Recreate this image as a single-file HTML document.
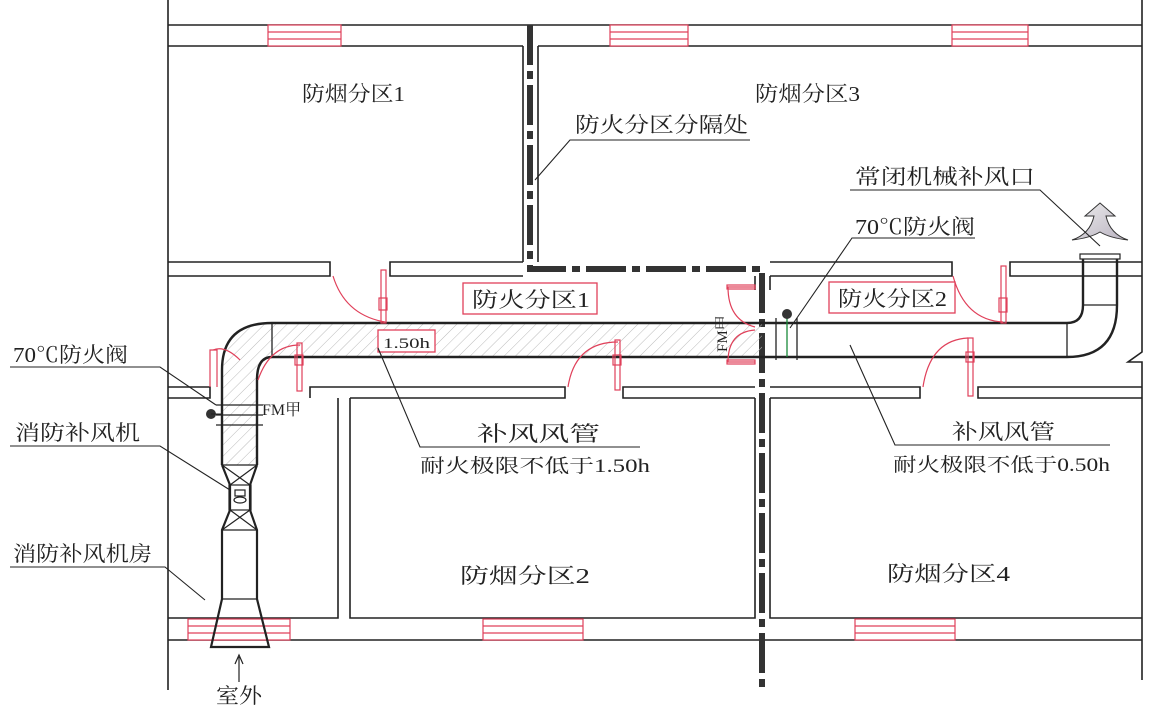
<!DOCTYPE html>
<html><head><meta charset="utf-8"><style>
html,body{margin:0;padding:0;background:#fff;}
svg{display:block;}
text{font-family:"Liberation Serif","Noto Serif CJK SC","Noto Sans CJK SC",serif;fill:#222;}
</style></head><body>
<svg width="1167" height="706" viewBox="0 0 1167 706" xmlns="http://www.w3.org/2000/svg">
<defs>
<pattern id="h" width="8" height="8" patternUnits="userSpaceOnUse" patternTransform="rotate(45)">
<line x1="0" y1="0" x2="0" y2="8" stroke="#bbb" stroke-width="1"/>
</pattern>
<linearGradient id="ag" x1="0" y1="0" x2="1" y2="1"><stop offset="0" stop-color="#eee"/><stop offset="1" stop-color="#b9b2c0"/></linearGradient>
</defs>
<g stroke="#222" stroke-width="1.6" fill="none">
<line x1="168" y1="0" x2="168" y2="690"/>
<polyline points="1142,0 1142,352 1128,362 1142,362 1142,680"/>
<line x1="168" y1="25" x2="1142" y2="25"/>
<line x1="168" y1="46" x2="523" y2="46"/>
<line x1="538" y1="46" x2="1142" y2="46"/>
<line x1="523" y1="46" x2="523" y2="262"/>
<line x1="538" y1="46" x2="538" y2="262"/>
<polyline points="168,262 330,262 330,276 168,276"/>
<polyline points="523,262 390,262 390,276 523,276"/>
<polyline points="770,262 952,262 952,276 770,276"/>
<polyline points="1142,262 1010,262 1010,276 1142,276"/>
<polyline points="168,387 210,387 210,398 168,398"/>
<polyline points="310,398 310,387 565,387 565,398 350,398"/>
<polyline points="755,387 623,387 623,398 755,398"/>
<polyline points="770,387 920,387 920,398 770,398"/>
<polyline points="1142,387 978,387 978,398 1142,398"/>
<polyline points="338,398 338,618 168,618"/>
<polyline points="350,398 350,618 755,618 755,398"/>
<polyline points="770,398 770,618 1142,618"/>
<line x1="168" y1="640" x2="1142" y2="640"/>
<line x1="755" y1="276" x2="755" y2="290"/>
<line x1="770" y1="276" x2="770" y2="290"/>
</g>
<g stroke="#333" stroke-width="6" fill="none" stroke-dasharray="40 6 8 6">
<polyline points="530,25 530,269 762,269 762,690"/>
</g>
<g stroke="#e0405a" stroke-width="1.2" fill="#fff">
<rect x="268" y="25" width="73" height="21"/><line x1="268" y1="32" x2="341" y2="32"/><line x1="268" y1="39" x2="341" y2="39"/>
<rect x="610" y="25" width="78" height="21"/><line x1="610" y1="32" x2="688" y2="32"/><line x1="610" y1="39" x2="688" y2="39"/>
<rect x="952" y="25" width="76" height="21"/><line x1="952" y1="32" x2="1028" y2="32"/><line x1="952" y1="39" x2="1028" y2="39"/>
<rect x="188" y="619" width="102" height="21"/><line x1="188" y1="626" x2="290" y2="626"/><line x1="188" y1="633" x2="290" y2="633"/>
<rect x="483" y="619" width="100" height="21"/><line x1="483" y1="626" x2="583" y2="626"/><line x1="483" y1="633" x2="583" y2="633"/>
<rect x="855" y="619" width="100" height="21"/><line x1="855" y1="626" x2="955" y2="626"/><line x1="855" y1="633" x2="955" y2="633"/>
</g>
<path d="M272,323 L762,323 L762,357 L272,357 Z" fill="url(#h)"/>
<path d="M222,370 Q222,323 272,323 L272,357 Q257,357 257,380 L257,465 L222,465 Z" fill="url(#h)"/>
<g stroke="#222" stroke-width="2.4" fill="none">
<path d="M222,465 L222,370 Q222,323 272,323 L1067,323 Q1083,323 1083,305 L1083,258"/>
<path d="M257,465 L257,380 Q257,357 272,357 L1067,357 Q1117,357 1117,305 L1117,258"/>
</g>
<g stroke="#222" stroke-width="1.3" fill="none">
<line x1="272" y1="323" x2="272" y2="357"/>
<line x1="1067" y1="323" x2="1067" y2="357"/>
<line x1="1083" y1="305" x2="1117" y2="305"/>
<line x1="776" y1="318" x2="776" y2="360"/>
<line x1="797" y1="318" x2="797" y2="360"/>
<line x1="216" y1="405" x2="263" y2="405"/>
<line x1="216" y1="415" x2="263" y2="415"/>
<line x1="216" y1="425" x2="263" y2="425"/>
</g>
<line x1="787" y1="315" x2="787" y2="357" stroke="#1a8a3a" stroke-width="1.3"/>
<circle cx="787" cy="314" r="5" fill="#333"/>
<circle cx="211" cy="414" r="5" fill="#333"/><line x1="211" y1="414" x2="222" y2="414" stroke="#222"/>
<g stroke="#222" stroke-width="2.2" fill="none">
<path d="M222,465 L230,485 L230,510 L222,530 L222,599 L211,647 L269,647 L257,599 L257,530 L250,510 L250,485 L257,465"/>
</g>
<g stroke="#222" stroke-width="1.2" fill="none">
<line x1="222" y1="465" x2="257" y2="465"/><line x1="222" y1="530" x2="257" y2="530"/><line x1="222" y1="599" x2="257" y2="599"/>
<line x1="222" y1="465" x2="250" y2="485"/><line x1="257" y1="465" x2="230" y2="485"/>
<line x1="230" y1="510" x2="257" y2="530"/><line x1="250" y1="510" x2="222" y2="530"/>
<rect x="229" y="485" width="22" height="25"/>
<rect x="235" y="490" width="10" height="6"/>
<ellipse cx="240" cy="500" rx="6" ry="3"/>
<line x1="239" y1="657" x2="239" y2="682"/><polyline points="235,664 239,655 243,664"/>
</g>
<rect x="1080" y="254" width="40" height="5" fill="#fff" stroke="#222" stroke-width="1.2"/>
<path d="M1100,203 L1115,216 L1106,216 Q1110,234 1128,240 Q1110,238 1100,232 Q1090,238 1072,240 Q1090,234 1094,216 L1085,216 Z" fill="url(#ag)" stroke="#333" stroke-width="1"/>
<g stroke="#e0405a" stroke-width="1.2" fill="none">
<path d="M333,276 Q345,315 385,322"/><rect x="381" y="270" width="5" height="53"/><rect x="379" y="298" width="8" height="12"/>
<path d="M210,387 L210,350 L217,350 L217,387"/><path d="M213,350 Q225,345 240,360"/>
<path d="M258,380 Q270,345 300,345"/><rect x="297" y="343" width="5" height="48"/><rect x="295" y="355" width="8" height="10"/>
<path d="M568,387 Q575,342 618,342"/><rect x="615" y="340" width="5" height="50"/><rect x="613" y="355" width="8" height="10"/>
<path d="M953,276 Q965,320 1003,322"/><rect x="1001" y="266" width="5" height="57"/><rect x="999" y="298" width="8" height="14"/>
<path d="M923,387 Q930,340 968,338"/><rect x="968" y="338" width="5" height="58"/><rect x="966" y="352" width="8" height="10"/>
<path d="M755,287 L728,287 Q728,320 755,327"/><rect x="727" y="285" width="28" height="4"/>
<path d="M755,362 L728,362 Q728,332 755,330"/><rect x="727" y="360" width="28" height="4"/>
</g>
<g stroke="#e0405a" stroke-width="1.3" fill="#fff">
<rect x="463" y="283" width="134" height="31"/>
<rect x="829" y="282" width="126" height="31"/>
<rect x="378" y="330" width="57" height="22"/>
</g>
<g stroke="#222" stroke-width="1.1" fill="none">
<polyline points="750,140 570,140 535,180"/>
<polyline points="850,190 1040,190 1100,246"/>
<polyline points="975,238 852,238 790,328"/>
<polyline points="10,367 160,367 216,405"/>
<polyline points="10,446 160,446 230,490"/>
<polyline points="10,567 165,567 205,600"/>
<polyline points="640,447 420,447 378,348"/>
<polyline points="1110,445 895,445 850,345"/>
</g>
<g font-size="21">
<text x="302" y="101" textLength="103" lengthAdjust="spacingAndGlyphs">防烟分区1</text>
<text x="755" y="101" textLength="105" lengthAdjust="spacingAndGlyphs">防烟分区3</text>
<text x="575" y="132" textLength="173" lengthAdjust="spacingAndGlyphs">防火分区分隔处</text>
<text x="855" y="184" textLength="180" lengthAdjust="spacingAndGlyphs">常闭机械补风口</text>
<text x="855" y="234" textLength="120" lengthAdjust="spacingAndGlyphs">70℃防火阀</text>
<text x="472" y="307" textLength="118" lengthAdjust="spacingAndGlyphs">防火分区1</text>
<text x="838" y="306" textLength="109" lengthAdjust="spacingAndGlyphs">防火分区2</text>
<text x="13" y="362" textLength="115" lengthAdjust="spacingAndGlyphs">70℃防火阀</text>
<text x="15" y="440" textLength="125" lengthAdjust="spacingAndGlyphs">消防补风机</text>
<text x="13" y="561" textLength="139" lengthAdjust="spacingAndGlyphs">消防补风机房</text>
<text x="477" y="441" textLength="123" lengthAdjust="spacingAndGlyphs">补风风管</text>
<text x="952" y="439" textLength="103" lengthAdjust="spacingAndGlyphs">补风风管</text>
<text x="460" y="583" textLength="130" lengthAdjust="spacingAndGlyphs">防烟分区2</text>
<text x="887" y="581" textLength="123" lengthAdjust="spacingAndGlyphs">防烟分区4</text>
<text x="216" y="703" textLength="46" lengthAdjust="spacingAndGlyphs">室外</text>
</g>
<g font-size="19">
<text x="420" y="472" textLength="230" lengthAdjust="spacingAndGlyphs">耐火极限不低于1.50h</text>
<text x="893" y="471" textLength="217" lengthAdjust="spacingAndGlyphs">耐火极限不低于0.50h</text>
</g>
<text x="383" y="348" font-size="15" textLength="47" lengthAdjust="spacingAndGlyphs">1.50h</text>
<text x="262" y="415" font-size="16">FM甲</text>
<text x="0" y="0" font-size="15" transform="translate(727,352) rotate(-90)">FM甲</text>
</svg>
</body></html>
